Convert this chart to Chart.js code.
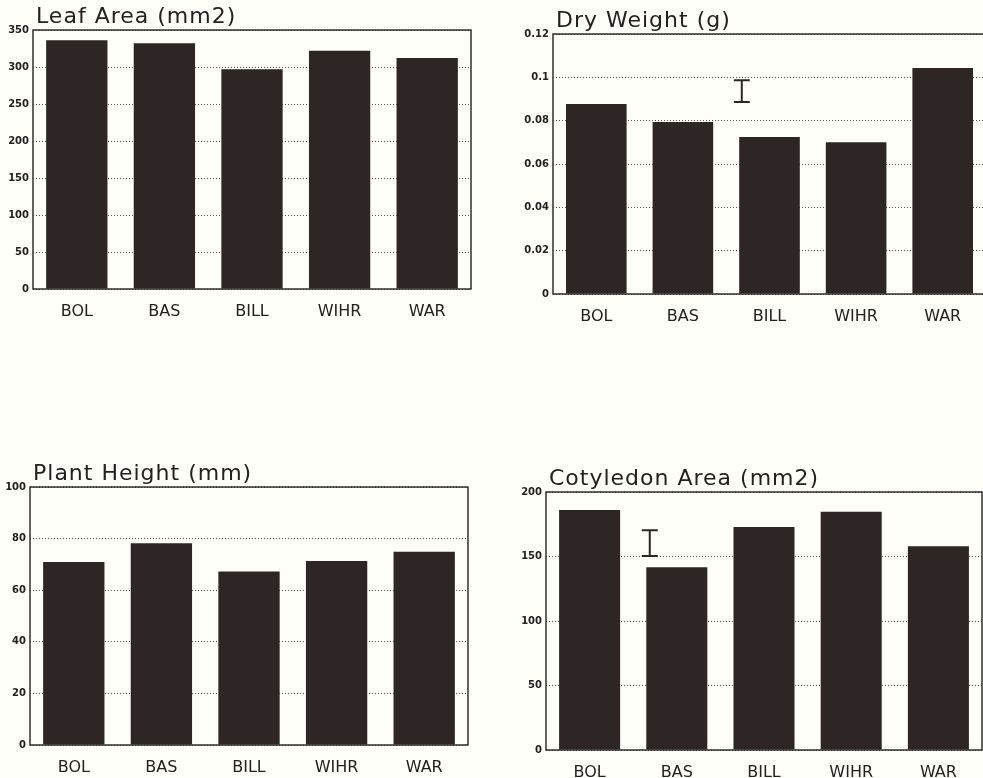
<!DOCTYPE html>
<html>
<head>
<meta charset="utf-8">
<script src="https://cdn.jsdelivr.net/npm/chart.js@4.4.1/dist/chart.umd.min.js"></script>
<style>
  body { margin: 0; background: #fffef8; width: 983px; height: 778px; overflow: hidden; position: relative; }
  canvas { position: absolute; }
</style>
</head>
<body>
<canvas id="leaf" width="480" height="320" style="left:0px;top:0px"></canvas>
<canvas id="dry" width="490" height="330" style="left:500px;top:0px"></canvas>
<canvas id="height" width="480" height="323" style="left:0px;top:455px"></canvas>
<canvas id="coty" width="490" height="318" style="left:500px;top:460px"></canvas>
<script>
// data
const categories = ["BOL", "BAS", "BILL", "WIHR", "WAR"];
const leafArea = [336, 332, 297, 322, 312];
const dryWeight = [0.0877, 0.0794, 0.0725, 0.070, 0.1043];
const plantHeight = [70.9, 78.2, 67.2, 71.3, 74.9];
const cotyledonArea = [186, 141.6, 172.9, 184.7, 157.9];

const leafAxis = [0, 350, 50];      // min, max, step
const dryAxis = [0, 0.12, 0.02];
const heightAxis = [0, 100, 20];
const cotyAxis = [0, 200, 50];

// LSD bars (low, high) and where they sit along the category axis
const dryLsd = [0.0886, 0.0987];
const dryLsdAt = 1.68;
const cotyLsd = [150.4, 170.3];
const cotyLsdAt = 0.69;

const ink = "#2e2624";
const font = "'DejaVu Sans', sans-serif";

const panelPlugin = {
  id: "panel",
  afterDraw(chart, args, opts) {
    const ctx = chart.ctx;
    const a = chart.chartArea;
    ctx.save();
    // frame around plot
    ctx.strokeStyle = "#222";
    ctx.lineWidth = 1.4;
    ctx.strokeRect(a.left, a.top, a.right - a.left, a.bottom - a.top);
    // error bar
    if (opts.lsd) {
      const x = chart.scales.x.getPixelForValue(opts.lsdAt);
      const y1 = chart.scales.y.getPixelForValue(opts.lsd[0]);
      const y2 = chart.scales.y.getPixelForValue(opts.lsd[1]);
      ctx.strokeStyle = ink;
      ctx.lineWidth = 2;
      ctx.beginPath();
      ctx.moveTo(x, y1); ctx.lineTo(x, y2);
      ctx.moveTo(x - 8, y1); ctx.lineTo(x + 8, y1);
      ctx.moveTo(x - 8, y2); ctx.lineTo(x + 8, y2);
      ctx.stroke();
    }
    // title
    ctx.fillStyle = "#222";
    ctx.font = "22px " + font;
    ctx.letterSpacing = "1px";
    ctx.textBaseline = "alphabetic";
    ctx.textAlign = "left";
    ctx.fillText(opts.title, a.left + 3, a.top - 7);
    ctx.restore();
  }
};

function makePanel(id, title, values, axis, yWidth, xHeight, pad, fmt, lsd, lsdAt) {
  new Chart(document.getElementById(id), {
    type: "bar",
    data: {
      labels: categories,
      datasets: [{
        data: values,
        backgroundColor: ink,
        borderWidth: 0,
        categoryPercentage: 1,
        barPercentage: 0.7
      }]
    },
    options: {
      responsive: false,
      animation: false,
      devicePixelRatio: 1,
      layout: { padding: { top: pad[0], right: pad[1], left: 0, bottom: 0 } },
      plugins: {
        legend: { display: false },
        tooltip: { enabled: false },
        panel: { title: title, lsd: lsd, lsdAt: lsdAt }
      },
      scales: {
        x: {
          grid: { display: false },
          border: { display: false },
          ticks: { color: "#222", font: { family: font, size: 16 }, padding: 5 },
          afterFit: s => { s.height = xHeight; }
        },
        y: {
          min: axis[0],
          max: axis[1],
          border: { display: false, dash: [1, 2] },
          grid: { color: "#555", lineWidth: 1, drawTicks: false },
          ticks: {
            stepSize: axis[2],
            color: "#222",
            padding: 4,
            font: { family: font, size: 10, weight: "bold" },
            callback: fmt
          },
          afterFit: s => { s.width = yWidth; }
        }
      }
    },
    plugins: [panelPlugin]
  });
}

makePanel("leaf", "Leaf Area (mm2)", leafArea, leafAxis, 33, 31, [30, 9], v => v);
makePanel("dry", "Dry Weight (g)", dryWeight, dryAxis, 53, 36, [34, 4], v => String(+v.toFixed(2)), dryLsd, dryLsdAt);
makePanel("height", "Plant Height (mm)", plantHeight, heightAxis, 30, 33, [32, 12], v => v);
makePanel("coty", "Cotyledon Area (mm2)", cotyledonArea, cotyAxis, 46, 28, [32, 8], v => v, cotyLsd, cotyLsdAt);
</script>
</body>
</html>
